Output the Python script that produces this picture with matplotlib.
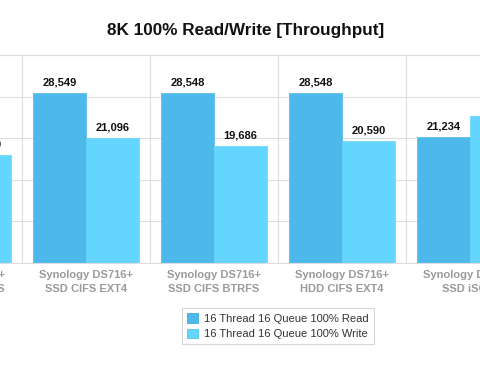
import matplotlib
matplotlib.use("Agg")
import matplotlib.pyplot as plt
import numpy as np

plt.rcParams["font.family"] = ["Liberation Sans", "DejaVu Sans"]

# chart data (the picture is a crop: first and last groups only partly visible)
categories = [
    "Synology DS716+\nHDD CIFS BTRFS",
    "Synology DS716+\nSSD CIFS EXT4",
    "Synology DS716+\nSSD CIFS BTRFS",
    "Synology DS716+\nHDD CIFS EXT4",
    "Synology DS716+\nSSD iSCSI",
]
read_vals = [28500, 28549, 28548, 28548, 21234]
write_vals = [18100, 21096, 19686, 20590, 24700]
series_names = ["16 Thread 16 Queue 100% Read", "16 Thread 16 Queue 100% Write"]

READ_C = "#4db9ea"
WRITE_C = "#63d5fe"

fig = plt.figure(figsize=(4.8, 3.78), dpi=100)
# axes deliberately wider than the figure to reproduce the cropped view
ax = fig.add_axes([-106 / 480, 115 / 378, 640 / 480, 208 / 378])

x = np.arange(len(categories))
w = 0.414
b1 = ax.bar(x - w / 2, read_vals, w, color=READ_C, edgecolor=READ_C,
            linewidth=0.5, label=series_names[0], zorder=2)
b2 = ax.bar(x + w / 2, write_vals, w, color=WRITE_C, edgecolor=WRITE_C,
            linewidth=0.5, label=series_names[1], zorder=2)

for bars in (b1, b2):
    for r in bars:
        v = r.get_height()
        ax.annotate("{:,}".format(int(v)), (r.get_x() + r.get_width() / 2, v),
                    xytext=(0, 4), textcoords="offset points",
                    ha="center", va="bottom", fontsize=8, fontweight="bold",
                    color="#111111")

ax.set_xlim(-0.5, len(categories) - 0.5)
ax.set_ylim(0, 35000)
ax.set_yticks(np.arange(0, 35001, 7000))
ax.set_yticklabels([])
ax.set_xticks(x)
ax.set_xticklabels(categories, fontsize=8, fontweight="bold", color="#9a9a9a",
                   linespacing=1.55)
ax.set_xticks(x[:-1] + 0.5, minor=True)
ax.tick_params(axis="both", which="both", length=0)
ax.tick_params(axis="x", pad=5)

ax.grid(axis="y", color="#dddddd", linewidth=0.8, zorder=0)
ax.grid(axis="x", which="minor", color="#dddddd", linewidth=0.8, zorder=0)
ax.grid(axis="x", which="major", visible=False)
for s in ax.spines.values():
    s.set_color("#dddddd")
    s.set_linewidth(0.8)

fig.text(246 / 480, 1 - 31 / 378, "8K 100% Read/Write [Throughput]",
         ha="center", va="center", fontsize=12.3, fontweight="bold",
         color="#111111")

leg = fig.legend(handles=[b1, b2], loc="center",
                 bbox_to_anchor=(278 / 480, 1 - 326 / 378),
                 fontsize=8, frameon=True, fancybox=False,
                 handlelength=1.0, handleheight=1.0, handletextpad=0.5,
                 borderpad=0.45, labelspacing=0.45, labelcolor="#333333")
leg.get_frame().set_edgecolor("#cccccc")
leg.get_frame().set_linewidth(0.8)
for h, c in zip(leg.legend_handles, ("#2f9fd6", "#3fbfe8")):
    h.set_edgecolor(c)

fig.savefig("out.png", dpi=100)
